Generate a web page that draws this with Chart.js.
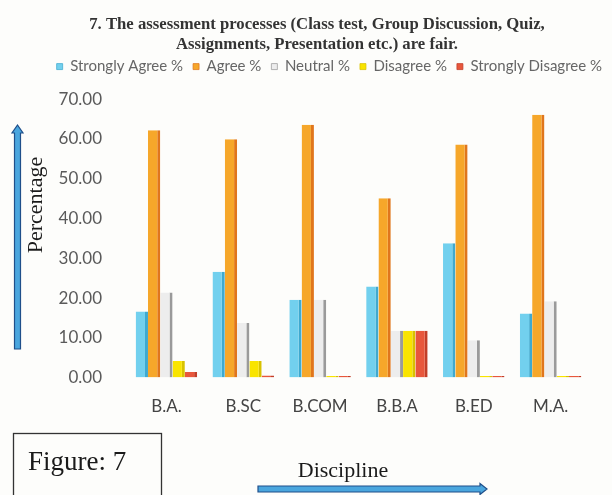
<!DOCTYPE html>
<html>
<head>
<meta charset="utf-8">
<style>
  html, body { margin: 0; padding: 0; background: #fdfdfb; }
  #wrap { width: 612px; height: 495px; position: relative; }
</style>
<script src="https://cdn.jsdelivr.net/npm/chart.js@4.4.1/dist/chart.umd.min.js"></script>
</head>
<body>
<div id="wrap"><canvas id="c" width="612" height="495"></canvas></div>
<script>
// Disciplines on the x axis
const disciplines = ['B.A.', 'B.SC', 'B.COM', 'B.B.A', 'B.ED', 'M.A.'];

// Response shares (%) per discipline
const stronglyAgree    = [16.6, 26.6, 19.6, 22.9, 33.8, 16.1];
const agree            = [62.2, 59.9, 63.6, 45.1, 58.6, 66.1];
const neutral          = [21.4, 13.7, 19.6, 11.8,  9.4, 19.2];
const disagree         = [ 4.2,  4.2,  0.4, 11.8,  0.4,  0.4];
const stronglyDisagree = [ 1.4,  0.5,  0.4, 11.8,  0.4,  0.4];

const seriesNames = ['Strongly Agree %', 'Agree %', 'Neutral %', 'Disagree %', 'Strongly Disagree %'];
const yTicks = [0, 10, 20, 30, 40, 50, 60, 70];

const titleLines = [
  '7. The assessment processes (Class test, Group Discussion, Quiz,',
  'Assignments, Presentation etc.) are fair.'
];

const fills = ['#72d0ee', '#f6a72a', '#ededed', '#f9e400', '#e8573c'];
const sides = ['#3fa9cf', '#e0761c', '#9a9a9a', '#d8c200', '#c23e28'];

function makeSet(i, data) {
  return {
    label: seriesNames[i],
    data: data,
    backgroundColor: fills[i],
    borderColor: sides[i],
    borderWidth: { left: 0, right: 3, top: 0, bottom: 0 },
    borderSkipped: false,
    categoryPercentage: 0.8,
    barPercentage: 1.0
  };
}

// Side decorations: axis arrows, y caption, figure caption box, x caption
const decorations = {
  id: 'decorations',
  afterDraw(chart) {
    const ctx = chart.ctx;
    ctx.save();

    function arrow(x0, y0, x1, y1, shaft, head) {
      const ang = Math.atan2(y1 - y0, x1 - x0);
      const len = Math.hypot(x1 - x0, y1 - y0);
      ctx.save();
      ctx.translate(x0, y0);
      ctx.rotate(ang);
      ctx.beginPath();
      ctx.moveTo(0, -shaft / 2);
      ctx.lineTo(len - head, -shaft / 2);
      ctx.lineTo(len - head, -shaft / 2 - 2.5);
      ctx.lineTo(len, 0);
      ctx.lineTo(len - head, shaft / 2 + 2.5);
      ctx.lineTo(len - head, shaft / 2);
      ctx.lineTo(0, shaft / 2);
      ctx.closePath();
      ctx.fillStyle = '#4aa6de';
      ctx.fill();
      ctx.lineWidth = 1.2;
      ctx.strokeStyle = '#1f4f8a';
      ctx.stroke();
      ctx.restore();
    }

    // vertical arrow beside the y caption
    arrow(17.5, 349, 17.5, 125, 6, 8);
    // horizontal arrow under the x caption
    arrow(258, 489, 487, 489, 6, 7);

    // y caption
    ctx.save();
    ctx.translate(36, 205);
    ctx.rotate(-Math.PI / 2);
    ctx.fillStyle = '#1a1a1a';
    ctx.font = '22px "Liberation Serif", serif';
    ctx.textAlign = 'center';
    ctx.textBaseline = 'middle';
    ctx.fillText('Percentage', 0, 0);
    ctx.restore();

    // caption box
    ctx.lineWidth = 1.3;
    ctx.strokeStyle = '#333';
    ctx.strokeRect(13.5, 433.5, 148, 80);
    ctx.fillStyle = '#1a1a1a';
    ctx.font = '27px "Liberation Serif", serif';
    ctx.textAlign = 'left';
    ctx.textBaseline = 'middle';
    ctx.fillText('Figure: 7', 28, 463);

    ctx.font = '22px "Liberation Serif", serif';
    ctx.textAlign = 'center';
    ctx.fillText('Discipline', 343, 471);
    ctx.restore();
  }
};

new Chart(document.getElementById('c'), {
  type: 'bar',
  data: {
    labels: disciplines,
    datasets: [
      makeSet(0, stronglyAgree),
      makeSet(1, agree),
      makeSet(2, neutral),
      makeSet(3, disagree),
      makeSet(4, stronglyDisagree)
    ]
  },
  options: {
    responsive: false,
    animation: false,
    devicePixelRatio: 1,
    layout: { padding: { left: 22, right: 0, top: 4, bottom: 59 } },
    plugins: {
      title: {
        display: true,
        text: titleLines,
        color: '#333',
        font: { family: '"Liberation Serif", serif', size: 16.7, weight: 'bold', lineHeight: 1.2 },
        padding: { top: 11, bottom: -6 }
      },
      legend: {
        display: true,
        position: 'top',
        align: 'end',
        labels: {
          color: '#666',
          font: { family: 'Lato, sans-serif', size: 15 },
          boxWidth: 6,
          boxHeight: 6,
          padding: 10
        }
      },
      tooltip: { enabled: false }
    },
    scales: {
      x: {
        grid: { display: false, drawTicks: false },
        border: { display: false },
        ticks: {
          color: '#444',
          font: { family: 'Lato, sans-serif', size: 17 },
          padding: 19
        }
      },
      y: {
        min: 0,
        max: 73.8,
        afterBuildTicks(scale) { scale.ticks = yTicks.map(v => ({ value: v })); },
        afterFit(scale) { scale.width = 106; },
        grid: { display: false, drawTicks: false },
        border: { display: false },
        ticks: {
          color: '#5a5a5a',
          font: { family: 'Lato, sans-serif', size: 17 },
          padding: 26,
          callback: v => Number(v).toFixed(2)
        }
      },
      yRight: {
        position: 'right',
        display: true,
        afterFit(scale) { scale.width = 23; },
        grid: { display: false, drawTicks: false },
        border: { display: false },
        ticks: { display: false }
      }
    }
  },
  plugins: [decorations]
});
</script>
</body>
</html>
